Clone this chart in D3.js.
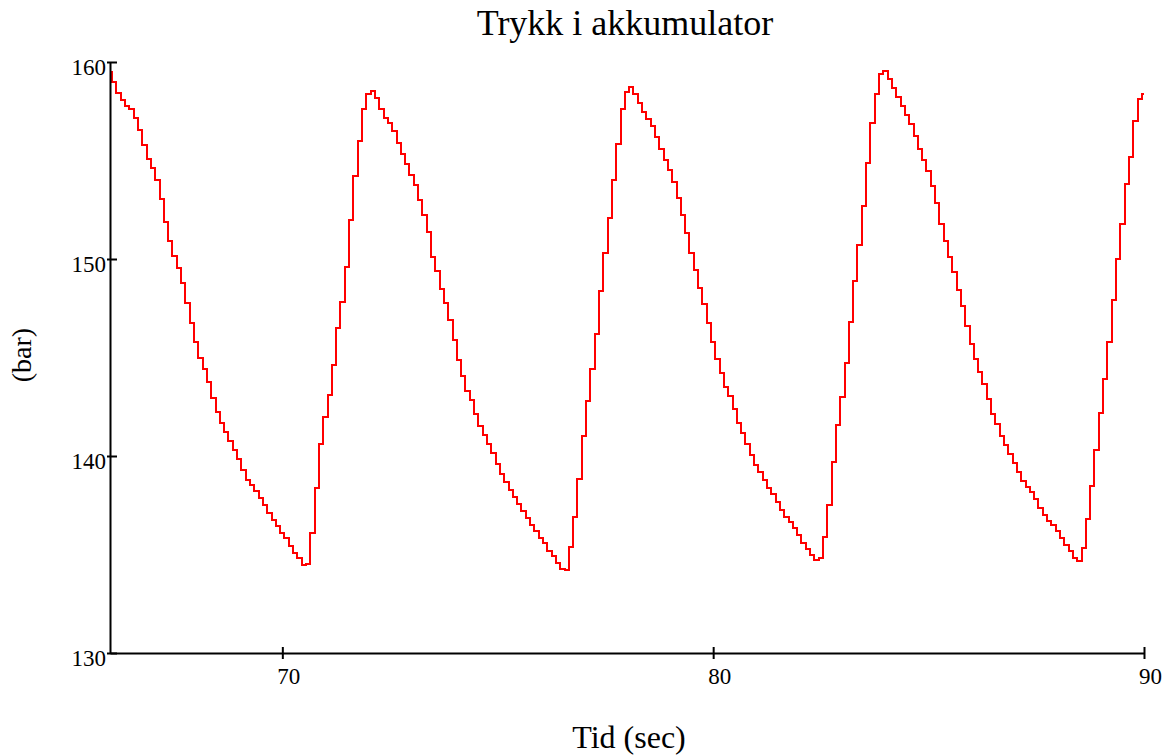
<!DOCTYPE html>
<html>
<head>
<meta charset="utf-8">
<script src="https://cdn.jsdelivr.net/npm/d3@7"></script>
<style>
  body { margin: 0; background: #fff; }
  text { font-family: "Liberation Serif", "Times New Roman", serif; fill: #000; }
</style>
</head>
<body>
<svg id="chart" width="1167" height="755"></svg>
<script>
// Accumulator pressure, sampled every 0.1 s from t = 66 s to t = 90 s
const tStart = 66;
const tStep = 0.1;
const pressure = [
  159.5, 159.0, 158.45, 158.05, 157.75, 157.6, 157.15, 156.55, 155.8, 155.1,
  154.6, 154.0, 153.05, 151.9, 150.9, 150.15, 149.55, 148.8, 147.75, 146.75,
  145.8, 145.0, 144.4, 143.75, 142.95, 142.25, 141.7, 141.2, 140.75, 140.3,
  139.85, 139.3, 138.8, 138.55, 138.2, 137.85, 137.5, 137.1, 136.75, 136.45,
  136.1, 135.85, 135.45, 135.1, 134.8, 134.45, 134.5, 136.1, 138.4, 140.6,
  142.0, 143.1, 144.6, 146.5, 147.8, 149.6, 152.0, 154.2, 156.0, 157.6,
  158.4, 158.55, 158.15, 157.6, 157.15, 156.9, 156.5, 155.9, 155.35, 154.8,
  154.25, 153.75, 153.0, 152.25, 151.35, 150.1, 149.4, 148.5, 147.75, 146.9,
  145.9, 144.85, 144.05, 143.3, 142.85, 142.15, 141.5, 141.05, 140.6, 140.15,
  139.6, 139.1, 138.7, 138.25, 137.9, 137.55, 137.2, 136.85, 136.5, 136.2,
  135.85, 135.6, 135.2, 134.9, 134.55, 134.25, 134.2, 135.4, 136.9, 138.85,
  141.0, 142.8, 144.4, 146.2, 148.4, 150.3, 152.1, 154.0, 155.85, 157.6,
  158.5, 158.75, 158.4, 157.9, 157.45, 157.1, 156.75, 156.2, 155.6, 155.05,
  154.5, 153.9, 153.1, 152.25, 151.3, 150.3, 149.45, 148.55, 147.7, 146.75,
  145.8, 144.9, 144.2, 143.5, 143.05, 142.4, 141.7, 141.15, 140.6, 140.05,
  139.55, 139.2, 138.8, 138.4, 138.05, 137.65, 137.25, 136.9, 136.65, 136.35,
  136.0, 135.6, 135.3, 134.95, 134.7, 134.8, 135.9, 137.5, 139.7, 141.55,
  143.0, 144.7, 146.8, 148.9, 150.7, 152.7, 154.85, 156.9, 158.4, 159.4,
  159.55, 159.15, 158.7, 158.2, 157.75, 157.3, 156.85, 156.25, 155.6, 155.05,
  154.45, 153.7, 152.85, 151.8, 150.9, 150.1, 149.35, 148.45, 147.6, 146.6,
  145.7, 144.9, 144.25, 143.65, 142.9, 142.15, 141.6, 141.0, 140.55, 140.1,
  139.65, 139.2, 138.75, 138.45, 138.15, 137.8, 137.35, 137.0, 136.7, 136.5,
  136.2, 135.85, 135.5, 135.2, 134.8, 134.65, 135.35, 136.8, 138.5, 140.3,
  142.2, 143.9, 145.8, 147.9, 150.0, 151.8, 153.8, 155.2, 157.0, 158.1,
  158.4
];
const time = pressure.map((_, i) => +(tStart + i * tStep).toFixed(1));

const xDomain = [66, 90];
const yDomain = [130, 160];
const xTicks = [70, 80, 90];
const yTicks = [130, 140, 150, 160];

const titleText = "Trykk i akkumulator";
const xTitle = "Tid (sec)";
const yTitle = "(bar)";

const svg = d3.select("#chart");

const x = d3.scaleLinear().domain(xDomain).range([110, 1144]);
const y = d3.scaleLinear().domain(yDomain).range([653, 62]);

// pressure trace, drawn as a sampled staircase
const series = time.map((t, i) => ({ t, v: pressure[i] }));
const line = d3.line()
  .x(d => x(d.t))
  .y(d => y(d.v))
  .curve(d3.curveStep);

svg.append("path")
  .datum(series)
  .attr("fill", "none")
  .attr("stroke", "#ff0000")
  .attr("stroke-width", 2)
  .attr("shape-rendering", "crispEdges")
  .attr("d", line);

// x axis: ticks straddle the baseline, labels sit slightly right of each tick
const gx = svg.append("g")
  .attr("transform", `translate(0,${y(yDomain[0])})`)
  .call(d3.axisBottom(x).tickValues(xTicks).tickSizeOuter(0).tickFormat(d3.format("d")));
gx.select(".domain").attr("stroke", "#000").attr("stroke-width", 2);
gx.selectAll(".tick line").attr("y1", -6).attr("y2", 6).attr("stroke", "#000").attr("stroke-width", 2);
gx.selectAll(".tick text")
  .attr("y", 31).attr("dy", 0).attr("dx", 6)
  .attr("font-size", 23)
  .attr("font-family", "Liberation Serif, Times New Roman, serif")
  .attr("fill", "#000");

// y axis
const gy = svg.append("g")
  .attr("transform", `translate(${x(xDomain[0])},0)`)
  .call(d3.axisLeft(y).tickValues(yTicks).tickSizeOuter(0).tickFormat(d3.format("d")));
gy.select(".domain").attr("stroke", "#000").attr("stroke-width", 2);
gy.selectAll(".tick line").attr("x1", -3).attr("x2", 7).attr("stroke", "#000").attr("stroke-width", 2);
gy.selectAll(".tick text")
  .attr("x", -4).attr("y", 12).attr("dy", 0)
  .attr("text-anchor", "end")
  .attr("font-size", 23)
  .attr("font-family", "Liberation Serif, Times New Roman, serif")
  .attr("fill", "#000");

// titles
svg.append("text")
  .attr("x", 625).attr("y", 35)
  .attr("text-anchor", "middle")
  .attr("font-size", 36)
  .text(titleText);

svg.append("text")
  .attr("x", 629).attr("y", 748)
  .attr("text-anchor", "middle")
  .attr("font-size", 32)
  .text(xTitle);

svg.append("text")
  .attr("transform", "translate(31,355) rotate(-90)")
  .attr("text-anchor", "middle")
  .attr("font-size", 28)
  .text(yTitle);
</script>
</body>
</html>
